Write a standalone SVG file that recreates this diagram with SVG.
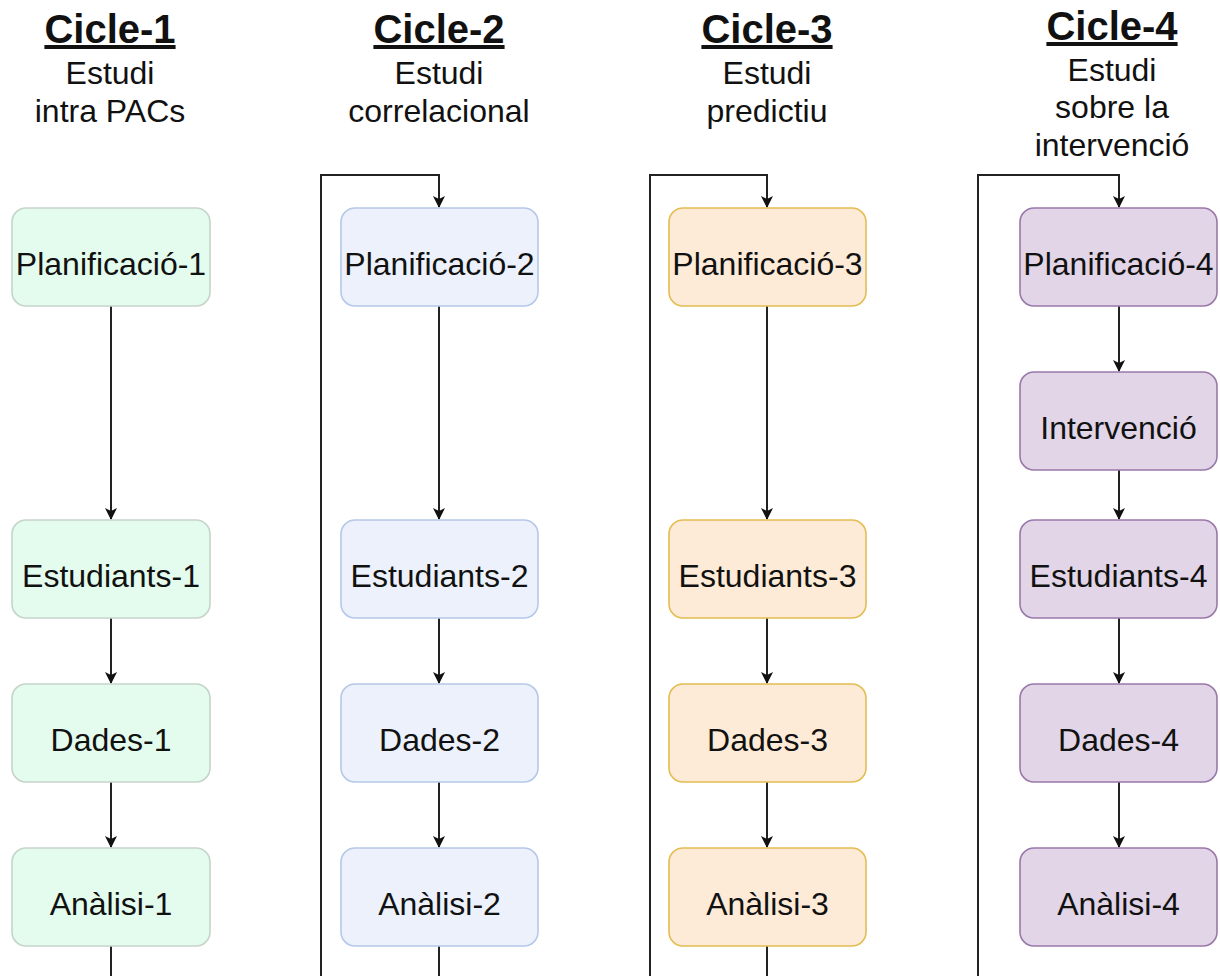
<svg xmlns="http://www.w3.org/2000/svg" width="1220" height="976" viewBox="0 0 1220 976">
  <defs>
    <marker id="arrow" viewBox="0 0 12 12" refX="11" refY="6" markerWidth="12" markerHeight="12" markerUnits="userSpaceOnUse" orient="auto">
      <path d="M0,0 L12,6 L0,12 L3,6 Z" fill="#111"/>
    </marker>
    <style>
      .title { font-family: "Liberation Sans", Arial, sans-serif; font-size: 40px; font-weight: bold; fill: #111; text-anchor: middle; text-decoration: underline; }
      .sub { font-family: "Liberation Sans", Arial, sans-serif; font-size: 32px; fill: #111; text-anchor: middle; }
      .lbl { font-family: "Liberation Sans", Arial, sans-serif; font-size: 32px; fill: #111; text-anchor: middle; dominant-baseline: central; }
      .box { stroke-width: 1.6; }
      .c1 { fill: #e4fcee; stroke: #c5d4ca; }
      .c2 { fill: #ecf1fb; stroke: #b5c8e8; }
      .c3 { fill: #fdebd7; stroke: #e4bd52; }
      .c4 { fill: #e1d5e7; stroke: #9a78a9; }
      .edge { fill: none; stroke: #222; stroke-width: 2; }
    </style>
  </defs>
  <rect width="1220" height="976" fill="#fff"/>

  <!-- column headers -->
  <g id="header-1">
    <text class="title" x="110" y="43">Cicle-1</text>
    <text class="sub" x="110" y="84">Estudi</text>
    <text class="sub" x="110" y="122">intra PACs</text>
  </g>
  <g id="header-2">
    <text class="title" x="439" y="43">Cicle-2</text>
    <text class="sub" x="439" y="84">Estudi</text>
    <text class="sub" x="439" y="122">correlacional</text>
  </g>
  <g id="header-3">
    <text class="title" x="767" y="43">Cicle-3</text>
    <text class="sub" x="767" y="84">Estudi</text>
    <text class="sub" x="767" y="122">predictiu</text>
  </g>
  <g id="header-4">
    <text class="title" x="1112" y="40">Cicle-4</text>
    <text class="sub" x="1112" y="81">Estudi</text>
    <text class="sub" x="1112" y="118">sobre la</text>
    <text class="sub" x="1112" y="156">intervenció</text>
  </g>

  <!-- connectors -->
  <g id="connectors">
    <path class="edge" d="M111,306 V519" marker-end="url(#arrow)"/>
    <path class="edge" d="M111,618 V683" marker-end="url(#arrow)"/>
    <path class="edge" d="M111,782 V847" marker-end="url(#arrow)"/>
    <path class="edge" d="M111,946 V1000 H321 V175 H439 V207" marker-end="url(#arrow)"/>

    <path class="edge" d="M439,306 V519" marker-end="url(#arrow)"/>
    <path class="edge" d="M439,618 V683" marker-end="url(#arrow)"/>
    <path class="edge" d="M439,782 V847" marker-end="url(#arrow)"/>
    <path class="edge" d="M439,946 V1000 H650 V175 H767 V207" marker-end="url(#arrow)"/>

    <path class="edge" d="M767,306 V519" marker-end="url(#arrow)"/>
    <path class="edge" d="M767,618 V683" marker-end="url(#arrow)"/>
    <path class="edge" d="M767,782 V847" marker-end="url(#arrow)"/>
    <path class="edge" d="M767,946 V1000 H978 V175 H1119 V207" marker-end="url(#arrow)"/>

    <path class="edge" d="M1119,306 V371" marker-end="url(#arrow)"/>
    <path class="edge" d="M1119,470 V519" marker-end="url(#arrow)"/>
    <path class="edge" d="M1119,618 V683" marker-end="url(#arrow)"/>
    <path class="edge" d="M1119,782 V847" marker-end="url(#arrow)"/>
  </g>

  <!-- Cicle-1 nodes -->
  <g id="planificacio-1"><rect class="box c1" x="12" y="208" width="198" height="98" rx="14"/><text class="lbl" x="111" y="264">Planificació-1</text></g>
  <g id="estudiants-1"><rect class="box c1" x="12" y="520" width="198" height="98" rx="14"/><text class="lbl" x="111" y="576">Estudiants-1</text></g>
  <g id="dades-1"><rect class="box c1" x="12" y="684" width="198" height="98" rx="14"/><text class="lbl" x="111" y="740">Dades-1</text></g>
  <g id="analisi-1"><rect class="box c1" x="12" y="848" width="198" height="98" rx="14"/><text class="lbl" x="111" y="904">Anàlisi-1</text></g>

  <!-- Cicle-2 nodes -->
  <g id="planificacio-2"><rect class="box c2" x="341" y="208" width="197" height="98" rx="14"/><text class="lbl" x="439.5" y="264">Planificació-2</text></g>
  <g id="estudiants-2"><rect class="box c2" x="341" y="520" width="197" height="98" rx="14"/><text class="lbl" x="439.5" y="576">Estudiants-2</text></g>
  <g id="dades-2"><rect class="box c2" x="341" y="684" width="197" height="98" rx="14"/><text class="lbl" x="439.5" y="740">Dades-2</text></g>
  <g id="analisi-2"><rect class="box c2" x="341" y="848" width="197" height="98" rx="14"/><text class="lbl" x="439.5" y="904">Anàlisi-2</text></g>

  <!-- Cicle-3 nodes -->
  <g id="planificacio-3"><rect class="box c3" x="669" y="208" width="197" height="98" rx="14"/><text class="lbl" x="767.5" y="264">Planificació-3</text></g>
  <g id="estudiants-3"><rect class="box c3" x="669" y="520" width="197" height="98" rx="14"/><text class="lbl" x="767.5" y="576">Estudiants-3</text></g>
  <g id="dades-3"><rect class="box c3" x="669" y="684" width="197" height="98" rx="14"/><text class="lbl" x="767.5" y="740">Dades-3</text></g>
  <g id="analisi-3"><rect class="box c3" x="669" y="848" width="197" height="98" rx="14"/><text class="lbl" x="767.5" y="904">Anàlisi-3</text></g>

  <!-- Cicle-4 nodes -->
  <g id="planificacio-4"><rect class="box c4" x="1020" y="208" width="197" height="98" rx="14"/><text class="lbl" x="1118.5" y="264">Planificació-4</text></g>
  <g id="intervencio"><rect class="box c4" x="1020" y="372" width="197" height="98" rx="14"/><text class="lbl" x="1118.5" y="428">Intervenció</text></g>
  <g id="estudiants-4"><rect class="box c4" x="1020" y="520" width="197" height="98" rx="14"/><text class="lbl" x="1118.5" y="576">Estudiants-4</text></g>
  <g id="dades-4"><rect class="box c4" x="1020" y="684" width="197" height="98" rx="14"/><text class="lbl" x="1118.5" y="740">Dades-4</text></g>
  <g id="analisi-4"><rect class="box c4" x="1020" y="848" width="197" height="98" rx="14"/><text class="lbl" x="1118.5" y="904">Anàlisi-4</text></g>
</svg>
